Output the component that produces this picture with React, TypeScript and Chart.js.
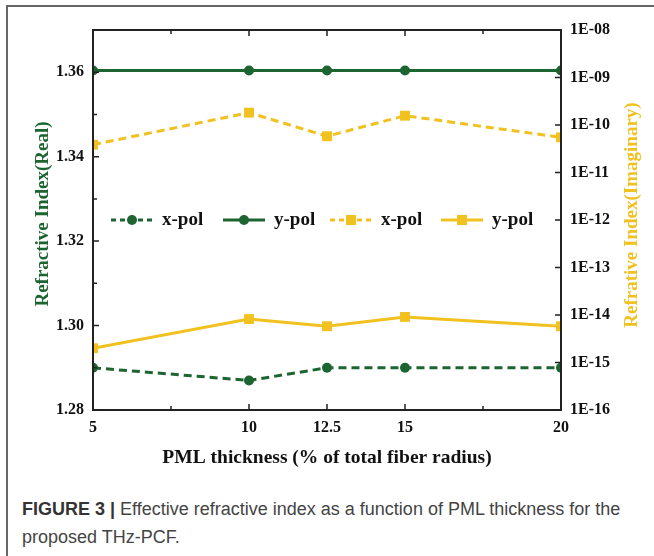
import React, { useEffect, useRef } from 'react';
import { Chart, registerables } from 'chart.js';
Chart.register(...registerables);

const thickness = [5, 10, 12.5, 15, 20];
const realXPol = [1.29, 1.287, 1.29, 1.29, 1.29];
const realYPol = [1.3604, 1.3604, 1.3604, 1.3604, 1.3604];
const imagXPol = [3.85e-11, 1.82e-10, 5.8e-11, 1.57e-10, 5.5e-11];
const imagYPol = [2.0e-15, 8.2e-15, 5.8e-15, 9.1e-15, 5.8e-15];

const xTickValues = [5, 10, 12.5, 15, 20];
const xMinorTicks = [7.5, 17.5];
const realTickValues = [1.28, 1.3, 1.32, 1.34, 1.36];
const realMinorTicks = [1.29, 1.31, 1.33, 1.35];
const imagExponents = [-16, -15, -14, -13, -12, -11, -10, -9, -8];
const legendLabels = ['x-pol', 'y-pol', 'x-pol', 'y-pol'];

const GREEN = '#1c6430';
const YELLOW = '#f1c11f';
const SERIF = '"Liberation Serif", "Times New Roman", serif';

const decorPlugin = {
  id: 'decor',
  afterDatasetsDraw(chart: any) {
    const { ctx, chartArea: a, scales } = chart;
    const sx = scales.x, yr = scales.yReal, yi = scales.yImag;
    ctx.save();
    // frame
    ctx.strokeStyle = '#222';
    ctx.lineWidth = 2;
    ctx.strokeRect(a.left, a.top, a.right - a.left, a.bottom - a.top);
    // ticks
    ctx.lineWidth = 1.5;
    ctx.beginPath();
    const major = 6, minor = 4;
    const xTick = (v: number, len: number) => {
      const px = sx.getPixelForValue(v);
      ctx.moveTo(px, a.bottom); ctx.lineTo(px, a.bottom - len);
      ctx.moveTo(px, a.top); ctx.lineTo(px, a.top + len);
    };
    xTickValues.forEach((v) => xTick(v, major));
    xMinorTicks.forEach((v) => xTick(v, minor));
    realTickValues.forEach((v) => { const py = yr.getPixelForValue(v); ctx.moveTo(a.left, py); ctx.lineTo(a.left + major, py); });
    realMinorTicks.forEach((v) => { const py = yr.getPixelForValue(v); ctx.moveTo(a.left, py); ctx.lineTo(a.left + minor, py); });
    imagExponents.forEach((e) => { const py = yi.getPixelForValue(Math.pow(10, e)); ctx.moveTo(a.right, py); ctx.lineTo(a.right - major, py); });
    ctx.stroke();

    // legend
    const ly = a.top + 190;
    const starts = [18, 130, 237, 348];
    chart.data.datasets.forEach((ds: any, i: number) => {
      const x0 = a.left + starts[i];
      const len = 42;
      ctx.save();
      ctx.strokeStyle = ds.borderColor;
      ctx.lineWidth = 3;
      ctx.setLineDash(ds.borderDash && ds.borderDash.length ? [5, 4] : []);
      ctx.beginPath();
      ctx.moveTo(x0, ly); ctx.lineTo(x0 + len, ly);
      ctx.stroke();
      ctx.setLineDash([]);
      ctx.fillStyle = ds.backgroundColor;
      const cx = x0 + len / 2;
      if (ds.pointStyle === 'rect') {
        ctx.fillRect(cx - 5, ly - 5, 10, 10);
      } else {
        ctx.beginPath(); ctx.arc(cx, ly, 5, 0, Math.PI * 2); ctx.fill();
      }
      ctx.fillStyle = '#111';
      ctx.font = `bold 19px ${SERIF}`;
      ctx.textAlign = 'left';
      ctx.textBaseline = 'middle';
      ctx.fillText(legendLabels[i], x0 + len + 9, ly);
      ctx.restore();
    });

    // axis titles
    ctx.font = `bold 19px ${SERIF}`;
    ctx.textAlign = 'center';
    ctx.textBaseline = 'middle';
    ctx.save();
    ctx.translate(43, 214);
    ctx.rotate(-Math.PI / 2);
    ctx.fillStyle = GREEN;
    ctx.fillText('Refractive Index(Real)', 0, 0);
    ctx.restore();
    ctx.save();
    ctx.translate(632, 215);
    ctx.rotate(-Math.PI / 2);
    ctx.fillStyle = YELLOW;
    ctx.fillText('Refrative Index(Imaginary)', 0, 0);
    ctx.restore();
    ctx.font = `bold 19.5px ${SERIF}`;
    ctx.fillStyle = '#111';
    ctx.fillText('PML thickness (% of total fiber radius)', (a.left + a.right) / 2, 458);
    ctx.restore();
  },
};

export default function App() {
  const ref = useRef<HTMLCanvasElement | null>(null);
  useEffect(() => {
    if (!ref.current) return;
    const pts = (ys: number[]) => thickness.map((x, i) => ({ x, y: ys[i] }));
    const tickFont = { family: SERIF, size: 16, weight: 'bold' as const };
    const chart = new Chart(ref.current, {
      type: 'line',
      data: {
        datasets: [
          { label: 'x-pol', data: pts(realXPol), yAxisID: 'yReal', borderColor: GREEN, backgroundColor: GREEN, borderWidth: 3, borderDash: [8, 5], pointStyle: 'circle', pointRadius: 5, pointBorderWidth: 0 },
          { label: 'y-pol', data: pts(realYPol), yAxisID: 'yReal', borderColor: GREEN, backgroundColor: GREEN, borderWidth: 3, borderDash: [], pointStyle: 'circle', pointRadius: 5, pointBorderWidth: 0 },
          { label: 'x-pol', data: pts(imagXPol), yAxisID: 'yImag', borderColor: YELLOW, backgroundColor: YELLOW, borderWidth: 3, borderDash: [8, 5], pointStyle: 'rect', pointRadius: 7, pointBorderWidth: 0 },
          { label: 'y-pol', data: pts(imagYPol), yAxisID: 'yImag', borderColor: YELLOW, backgroundColor: YELLOW, borderWidth: 3, borderDash: [], pointStyle: 'rect', pointRadius: 7, pointBorderWidth: 0 },
        ],
      },
      options: {
        responsive: false,
        animation: false,
        devicePixelRatio: 1,
        layout: { padding: { left: 0, right: 0, top: 30, bottom: 0 } },
        plugins: { legend: { display: false }, tooltip: { enabled: false } },
        scales: {
          x: {
            type: 'linear', min: 5, max: 20,
            afterBuildTicks: (s: any) => { s.ticks = xTickValues.map((v) => ({ value: v })); },
            afterFit: (s: any) => { s.height = 70; },
            ticks: { font: tickFont, color: '#111', padding: 8, maxRotation: 0, autoSkip: false, callback: (v: any) => String(v) },
            grid: { display: false, drawTicks: false },
            border: { display: false },
          },
          yReal: {
            type: 'linear', position: 'left', min: 1.28, max: 1.37,
            afterBuildTicks: (s: any) => { s.ticks = realTickValues.map((v) => ({ value: v })); },
            afterFit: (s: any) => { s.width = 93; },
            ticks: { font: tickFont, color: '#111', padding: 9, autoSkip: false, callback: (v: any) => Number(v).toFixed(2) },
            grid: { display: false, drawTicks: false },
            border: { display: false },
          },
          yImag: {
            type: 'logarithmic', position: 'right', min: 1e-16, max: 1e-8,
            afterBuildTicks: (s: any) => { s.ticks = imagExponents.map((e) => ({ value: Math.pow(10, e) })); },
            afterFit: (s: any) => { s.width = 93; },
            ticks: {
              font: tickFont, color: '#111', padding: 9, autoSkip: false,
              callback: (v: any) => { const e = Math.round(Math.log10(Number(v))); return '1E' + (e < 0 ? '-' : '+') + String(Math.abs(e)).padStart(2, '0'); },
            },
            grid: { display: false, drawTicks: false },
            border: { display: false },
          },
        },
      },
      plugins: [decorPlugin],
    } as any);
    return () => chart.destroy();
  }, []);

  return (
    <div style={{ position: 'fixed', left: 0, top: 0, width: 654, height: 556, background: '#fff', overflow: 'hidden' }}>
      <div style={{ position: 'absolute', left: 6, top: 5, right: -4, bottom: -4, borderTop: '2px solid #666', borderLeft: '2px solid #666' }} />
      <canvas ref={ref} width={654} height={480} style={{ position: 'absolute', left: 0, top: 0, width: 654, height: 480 }} />
      <div style={{ position: 'absolute', left: 22, top: 495, width: 625, fontFamily: '"Liberation Sans Narrow", "Liberation Sans", Arial, sans-serif', fontSize: 18, lineHeight: '28px', color: '#444' }}>
        <span style={{ fontWeight: 'bold', color: '#333' }}>FIGURE 3 |</span> Effective refractive index as a function of PML thickness for the proposed THz-PCF.
      </div>
    </div>
  );
}
